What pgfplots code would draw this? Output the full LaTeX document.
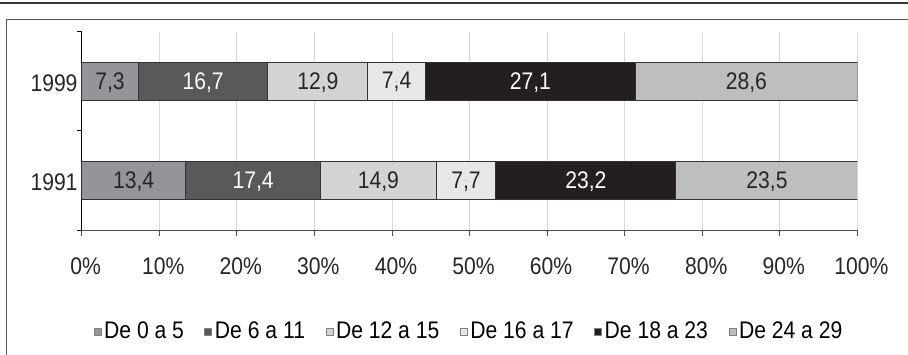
\documentclass[border=0pt]{standalone}
\usepackage{pgfplots}
\pgfplotsset{compat=1.18}
\usepackage{fontspec}
\setmainfont{Liberation Sans}[FakeStretch=0.88]

\definecolor{cA}{HTML}{939598}
\definecolor{cB}{HTML}{58595B}
\definecolor{cC}{HTML}{D1D3D4}
\definecolor{cD}{HTML}{E6E7E8}
\definecolor{cE}{HTML}{231F20}
\definecolor{cF}{HTML}{BCBEC0}

\pgfplotsset{/pgf/number format/assume math mode=true,
  chartbox/.style={at={(81.7pt,125pt)}, anchor=south west,
    width=775.6pt, height=198.3pt, scale only axis,
    xmin=0, xmax=100, ymin=-0.5, ymax=1.5},
  seglabels/.style={scatter, only marks, mark=*, mark size=0.01pt,
    mark options={draw=none, fill=none},
    point meta=explicit symbolic,
    scatter/@pre marker code/.code={\node[anchor=center, yshift=-1pt, text=#1] {\pgfplotspointmeta};},
    scatter/@post marker code/.code={}},
}

\begin{document}
\fontsize{24}{28}\selectfont
\begin{tikzpicture}
\path[use as bounding box, clip] (0,0) rectangle (908pt,355pt);
% rules round the figure
\draw[line width=2.5pt, black!80] (0,352.2pt) -- (908pt,352.2pt);
\draw[line width=1.2pt, black!65] (6.7pt,-5pt) -- (6.7pt,335.5pt) -- (915pt,335.5pt);
\begin{axis}[
    chartbox,
    xbar stacked, bar width=38pt,
    axis x line*=bottom, axis y line*=left,
    x axis line style={black!70, line width=0.8pt},
    y axis line style={black, line width=0.8pt},
    xtick={0,10,...,100},
    xticklabel={\pgfmathprintnumber{\tick}\%},
    xticklabel style={yshift=-14pt, xshift=4pt, text=black!85},
    ytick={0,1}, yticklabels={1991,1999},
    yticklabel style={xshift=10pt, yshift=-2pt, text=black!85},
    minor ytick={-0.5,0.5,1.5},
    tick align=outside,
    major tick length=6pt, minor tick length=5pt,
    major y tick style={draw=none},
    minor y tick style={black, line width=0.8pt},
    major x tick style={black!70, line width=0.8pt},
    xmajorgrids, major x grid style={black!15, line width=0.8pt},
    every axis plot/.append style={draw=black!80, line width=0.8pt},
    legend image code/.code={\draw[#1, draw=black!50, line width=0.5pt] (0pt,-3.5pt) rectangle (7pt,3.5pt);},
    legend style={draw=none, fill=none, at={(0.5,-0.514)}, anchor=center,
        legend columns=-1, inner xsep=0pt,
        nodes={inner xsep=3pt},
        /tikz/every even column/.append style={column sep=17.5pt}},
]
\addplot[fill=cA] coordinates {(13.4,0) (7.3,1)};
\addplot[fill=cB] coordinates {(17.4,0) (16.7,1)};
\addplot[fill=cC] coordinates {(14.9,0) (12.9,1)};
\addplot[fill=cD] coordinates {(7.7,0) (7.4,1)};
\addplot[fill=cE] coordinates {(23.2,0) (27.1,1)};
\addplot[fill=cF] coordinates {(23.5,0) (28.6,1)};
\legend{De 0 a 5, De 6 a 11, De 12 a 15, De 16 a 17, De 18 a 23, De 24 a 29}
\end{axis}
% value labels at the middle of each segment
\begin{axis}[chartbox, hide axis]
\addplot[seglabels=black!85] coordinates {
  (6.7,0) [13,4] (38.25,0) [14,9] (49.55,0) [7,7] (88.35,0) [23,5]
  (3.65,1) [7,3] (30.45,1) [12,9] (40.6,1) [7,4] (85.7,1) [28,6]};
\addplot[seglabels=white] coordinates {
  (22.1,0) [17,4] (65.0,0) [23,2] (15.65,1) [16,7] (57.85,1) [27,1]};
\end{axis}
\end{tikzpicture}
\end{document}
